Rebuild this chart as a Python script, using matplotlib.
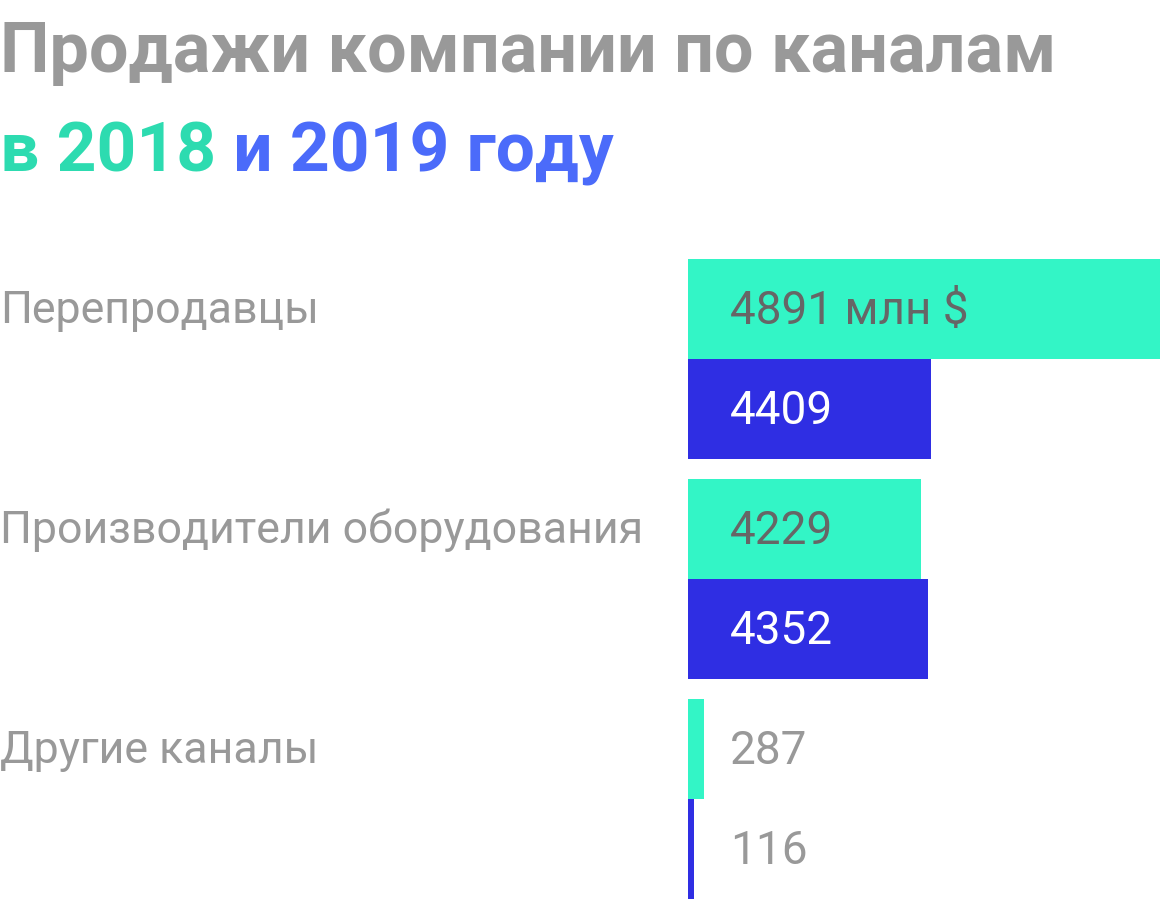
import matplotlib
matplotlib.use('Agg')
import matplotlib.pyplot as plt
import matplotlib.transforms as mtransforms

# Data
channels = ['Перепродавцы', 'Производители оборудования', 'Другие каналы']
sales_2018 = [4891, 4229, 287]
sales_2019 = [4409, 4352, 116]
unit = ' млн $'

# Colors
green_bar = '#33F5C6'
blue_bar = '#2F2EE3'
gray = '#999999'
dark_gray = '#666666'
green_title = '#2DDBB0'
blue_title = '#4B6BFA'

plt.rcParams['font.family'] = ['Roboto', 'DejaVu Sans']

W, H = 1160, 904
fig = plt.figure(figsize=(W / 100, H / 100), dpi=100)
fig.patch.set_facecolor('white')

# bar area: x from 688px to right edge, y from 260px to 900px
ax = fig.add_axes([688 / W, 4 / H, 1 - 688 / W, 640 / H])
ax.set_xlim(0, 472 * 4352 / 240)
ax.set_ylim(6.4, 0)
ax.axis('off')

tx = mtransforms.blended_transform_factory(fig.transFigure, ax.transData)

for i, (v18, v19) in enumerate(zip(sales_2018, sales_2019)):
    y18 = 0.5 + 2.2 * i
    y19 = 1.5 + 2.2 * i
    w18 = v18
    if i == 0:
        # first bar holds the unit label, drawn to the full width
        w18 = ax.get_xlim()[1]
    ax.barh(y18, w18, height=1.0, color=green_bar, linewidth=0)
    ax.barh(y19, v19, height=1.0, color=blue_bar, linewidth=0)

    # value labels
    lbl18 = f'{v18}' + (unit if i == 0 else '')
    c18 = dark_gray if v18 > 1000 else gray
    c19 = 'white' if v19 > 1000 else gray
    ax.text(730 / W, y18 + 0.14, lbl18, transform=tx, fontsize=33,
            color=c18, ha='left', va='baseline')
    ax.text(730 / W, y19 + 0.14, f'{v19}', transform=tx, fontsize=33,
            color=c19, ha='left', va='baseline')

    # category label
    ax.text(0, y18 + 0.13, channels[i], transform=tx, fontsize=32.2,
            color=gray, ha='left', va='baseline')

# Title
fig.text(0, 1 - 72 / H, 'Продажи компании по каналам', fontsize=50.5,
         fontweight='bold', color=gray, ha='left', va='baseline')

renderer = fig.canvas.get_renderer()
x = 0
for piece, col in [('в 2018', green_title), (' и 2019 году', blue_title)]:
    t = fig.text(x, 1 - 172 / H, piece, fontsize=50, fontweight='bold',
                 color=col, ha='left', va='baseline')
    bb = t.get_window_extent(renderer=renderer)
    x = bb.x1 / W

fig.savefig('out.png', dpi=100, facecolor='white')
